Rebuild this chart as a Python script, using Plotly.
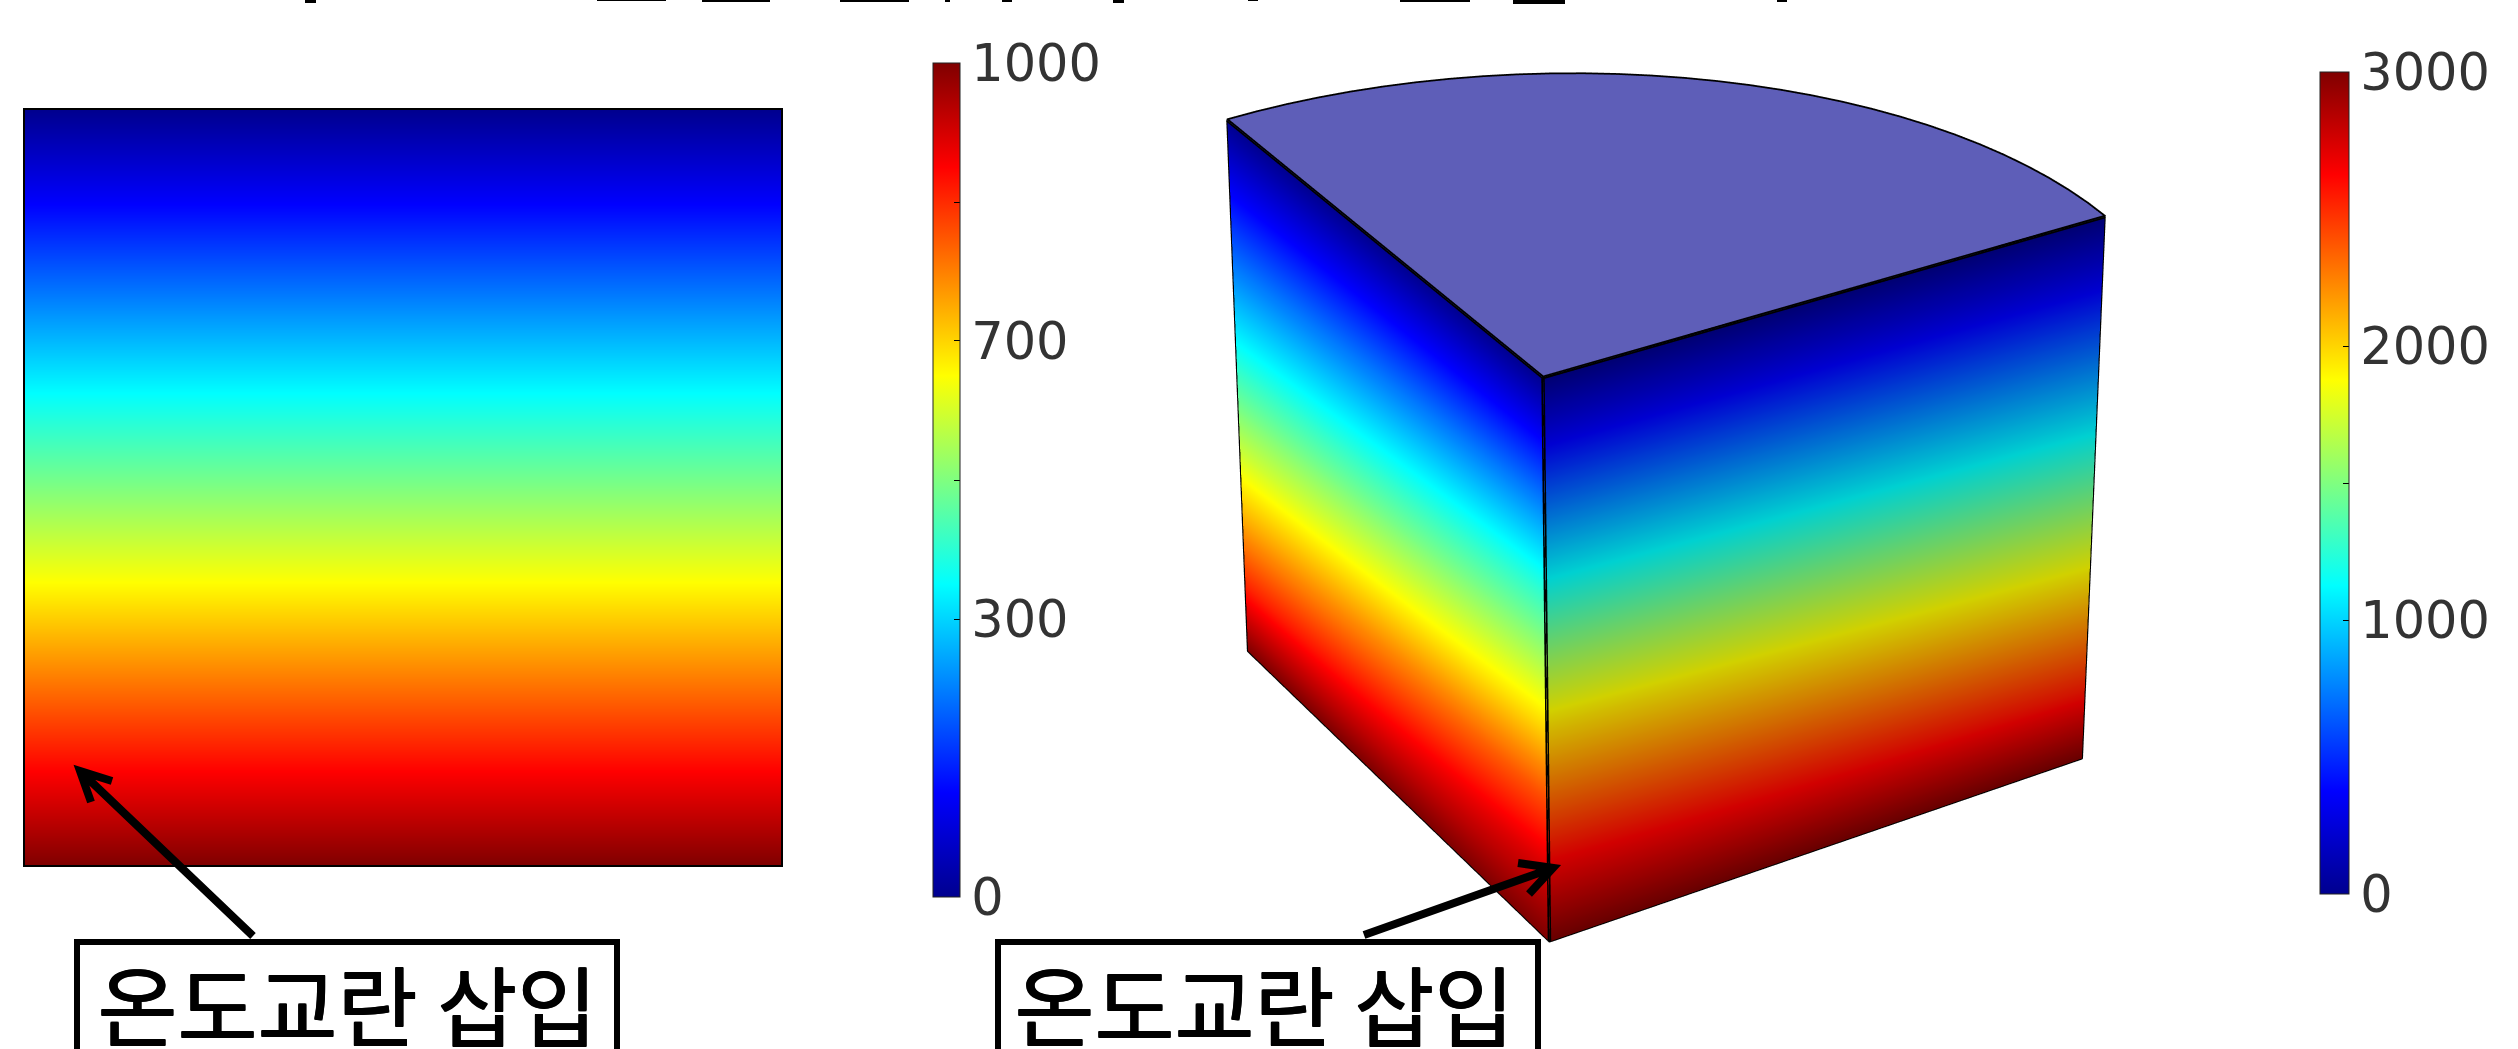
import plotly.graph_objects as go
import numpy as np

W, H = 2518, 1049

jet = [[0, '#00008f'], [0.125, '#0000ff'], [0.375, '#00ffff'],
       [0.625, '#ffff00'], [0.875, '#ff0000'], [1, '#800000']]
# the right hand face of the wedge is in shade
jet_shaded = [[0, '#000072'], [0.125, '#0000d1'], [0.375, '#00d1d1'],
              [0.625, '#d1d100'], [0.875, '#d10000'], [1, '#690000']]

# left panel: temperature top to bottom
left_depth = [0, 0.125, 0.25, 0.375, 0.5, 0.625, 0.75, 0.875, 1]
left_temp = [0, 125, 250, 375, 500, 625, 750, 875, 1000]
left_ticks = [0, 333, 500, 667, 833, 1000]
left_labels = ['0', '300', '', '700', '', '1000']

# right panel: wedge, height measured down from the top face
wedge_depth = [0, 0.125, 0.25, 0.375, 0.5, 0.625, 0.75, 0.875, 1]
# temperature along the front edge and the far edge of each face
xface_front = [0, 394, 788, 1183, 1585, 1972, 2319, 2665, 3000]
xface_rim = [0, 352, 703, 1055, 1425, 1800, 2175, 2550, 3000]
yface_front = [0, 419, 837, 1240, 1609, 1989, 2397, 2740, 3000]
yface_rim = [0, 335, 670, 1005, 1356, 1716, 2103, 2511, 3000]
right_ticks = [0, 1000, 1500, 2000, 3000]
right_labels = ['0', '1000', '', '2000', '3000']
arc_deg = list(range(0, 91, 3))
top_radius = 1.0
# the picture has some perspective, the orthographic camera does not,
# so the wedge narrows, leans and tilts a little
bottom_radius_x = 0.948
bottom_radius_y = 0.955
rim_lift_x = 0.068
rim_lift_y = 0.055
lean_x = 0.0085
lean_y = -0.0053
top_tilt_x = 0.0142
top_tilt_y = -0.0256

label = '온도교란 삽입'

# bottoms of the cropped title at the top edge: x from, x to, height
title_bits_x0 = [305, 597, 702, 840, 945, 1002, 1113, 1248, 1400, 1513, 1777]
title_bits_x1 = [316, 666, 770, 909, 950, 1012, 1124, 1258, 1470, 1565, 1787]
title_bits_h = [3, 1, 2, 2, 2, 2, 3, 1, 2, 4, 2]

flat = dict(ambient=1, diffuse=0, specular=0, fresnel=0, roughness=1)


def px(x):
    return x / W


def py(y):
    return 1 - y / H


def wedge_face(along_x, bottom_radius, tilt, lift, front, rim, scale):
    depth = np.array(wedge_depth)
    r = top_radius + (bottom_radius - top_radius) * depth
    radial = np.outer(r, [0, 1])
    zero = np.zeros_like(radial)
    z = np.column_stack([1 - depth, (1 - depth) * (1 + tilt * top_radius) + depth * lift])
    color = np.column_stack([front, rim])
    xs, ys = (radial, zero) if along_x else (zero, radial)
    xs = xs + np.outer(depth, [lean_x, lean_x])
    ys = ys + np.outer(depth, [lean_y, lean_y])
    return go.Surface(x=xs, y=ys, z=z, surfacecolor=color, cmin=0, cmax=3000,
                      colorscale=scale, showscale=False, hoverinfo='skip', lighting=flat)


fig = go.Figure()

fig.add_trace(go.Heatmap(
    x=[0, 1], y=left_depth, z=[[t, t] for t in left_temp],
    zmin=0, zmax=1000, zsmooth='best', colorscale=jet, hoverinfo='skip',
    colorbar=dict(
        xref='container', yref='container', x=933 / W, y=py(480), xanchor='left', yanchor='middle',
        len=834 / H, lenmode='fraction', thickness=27, xpad=0, ypad=0,
        tickvals=left_ticks, ticktext=left_labels, ticks='inside', ticklen=6, tickcolor='black',
        outlinewidth=1, outlinecolor='#222',
        tickfont=dict(family='DejaVu Sans', size=51, color='#333'),
    ),
))

fig.add_trace(wedge_face(True, bottom_radius_x, top_tilt_x, rim_lift_x, xface_front, xface_rim, jet_shaded))
fig.add_trace(wedge_face(False, bottom_radius_y, top_tilt_y, rim_lift_y, yface_front, yface_rim, jet))

# top face
theta = np.radians(arc_deg)
rr = np.array([0, top_radius])
top_x = np.outer(rr, np.cos(theta))
top_y = np.outer(rr, np.sin(theta))
top_z = 1 + top_tilt_x * top_x + top_tilt_y * top_y
fig.add_trace(go.Surface(x=top_x, y=top_y, z=top_z, surfacecolor=np.zeros_like(top_x),
                         colorscale=[[0, '#5e5eb8'], [1, '#5e5eb8']], showscale=False, hoverinfo='skip',
                         lighting=flat))

# edges of the wedge
fig.add_trace(go.Scatter3d(
    x=[lean_x, 0] + list(top_x[1]) + [0],
    y=[lean_y, 0] + list(top_y[1]) + [0],
    z=[0, 1] + list(top_z[1]) + [1],
    mode='lines', line=dict(color='black', width=7), hoverinfo='skip', showlegend=False,
))
fig.add_trace(go.Scatter3d(
    x=[top_radius, bottom_radius_x + lean_x, lean_x, lean_x, 0],
    y=[0, lean_y, lean_y, bottom_radius_y + lean_y, top_radius],
    z=[1 + top_tilt_x, rim_lift_x, 0, rim_lift_y, 1 + top_tilt_y],
    mode='lines', line=dict(color='black', width=4), hoverinfo='skip', showlegend=False,
))

# invisible carrier for the 3000 colorbar
fig.add_trace(go.Scatter3d(
    x=[0], y=[0], z=[1], mode='markers', hoverinfo='skip', showlegend=False,
    marker=dict(size=0.1, color=[0], cmin=0, cmax=3000, colorscale=jet, opacity=0, colorbar=dict(
        xref='container', yref='container', x=2320 / W, y=py(483), xanchor='left', yanchor='middle',
        len=822 / H, lenmode='fraction', thickness=29, xpad=0, ypad=0,
        tickvals=right_ticks, ticktext=right_labels, ticks='inside', ticklen=6, tickcolor='black',
        outlinewidth=1, outlinecolor='#222',
        tickfont=dict(family='DejaVu Sans', size=51, color='#333'),
    )),
))

hidden = dict(visible=False)
black = dict(color='black', width=6)
arrow = dict(color='black', width=8)
shapes = [
    # label boxes run off the bottom of the picture
    dict(type='path', xref='paper', yref='paper', line=black,
         path=f'M {px(77)} {py(1060)} L {px(77)} {py(942)} L {px(617)} {py(942)} L {px(617)} {py(1060)}'),
    dict(type='path', xref='paper', yref='paper', line=black,
         path=f'M {px(998)} {py(1060)} L {px(998)} {py(942)} L {px(1538)} {py(942)} L {px(1538)} {py(1060)}'),
    # arrows
    dict(type='path', xref='paper', yref='paper', line=arrow,
         path=f'M {px(253)} {py(936)} L {px(80)} {py(771)} M {px(112)} {py(781)} L {px(80)} {py(771)} L {px(91)} {py(802)}'),
    dict(type='path', xref='paper', yref='paper', line=arrow,
         path=f'M {px(1364)} {py(935)} L {px(1553)} {py(868)} M {px(1518)} {py(863)} L {px(1553)} {py(868)} L {px(1529)} {py(894)}'),
]
for x0, x1, h in zip(title_bits_x0, title_bits_x1, title_bits_h):
    shapes.append(dict(type='rect', xref='paper', yref='paper', x0=px(x0), x1=px(x1), y0=py(h), y1=1,
                       fillcolor='black', line=dict(width=0)))

label_font = dict(family='Noto Sans CJK KR', size=87, color='black',
                  shadow='1px 0 0 black, 0 1px 0 black, 1px 1px 0 black')
annotations = [
    dict(text=label, x=px(347), y=py(1002), xref='paper', yref='paper', xanchor='center', yanchor='middle',
         showarrow=False, font=label_font),
    dict(text=label, x=px(1264), y=py(1002), xref='paper', yref='paper', xanchor='center', yanchor='middle',
         showarrow=False, font=label_font),
]

fig.update_layout(
    width=W, height=H, paper_bgcolor='white', plot_bgcolor='white', showlegend=False,
    margin=dict(l=0, r=0, t=0, b=0, pad=0, autoexpand=False),
    xaxis=dict(domain=[px(25), px(781)], range=[0, 1], showticklabels=False, ticks='', showgrid=False,
               zeroline=False, showline=True, mirror=True, linecolor='black', linewidth=2),
    yaxis=dict(domain=[py(865), py(110)], range=[1, 0], showticklabels=False, ticks='', showgrid=False,
               zeroline=False, showline=True, mirror=True, linecolor='black', linewidth=2),
    scene=dict(
        domain=dict(x=[px(1066), px(2266)], y=[0, 1]),
        xaxis=dict(range=[-0.2, 1.2], **hidden), yaxis=dict(range=[-0.2, 1.2], **hidden),
        zaxis=dict(range=[-0.337, 1.063], **hidden),
        aspectmode='manual', aspectratio=dict(x=1.72, y=1.72, z=1.72),
        camera=dict(projection=dict(type='orthographic'), up=dict(x=0, y=0, z=1),
                    center=dict(x=0, y=0, z=0), eye=dict(x=-0.86, y=-1.53, z=0.97)),
        bgcolor='rgba(0,0,0,0)',
    ),
    shapes=shapes, annotations=annotations,
)

fig.write_html('out.html', post_script="document.body.style.margin='0';document.body.style.overflow='hidden';",
               config=dict(displayModeBar=False))
